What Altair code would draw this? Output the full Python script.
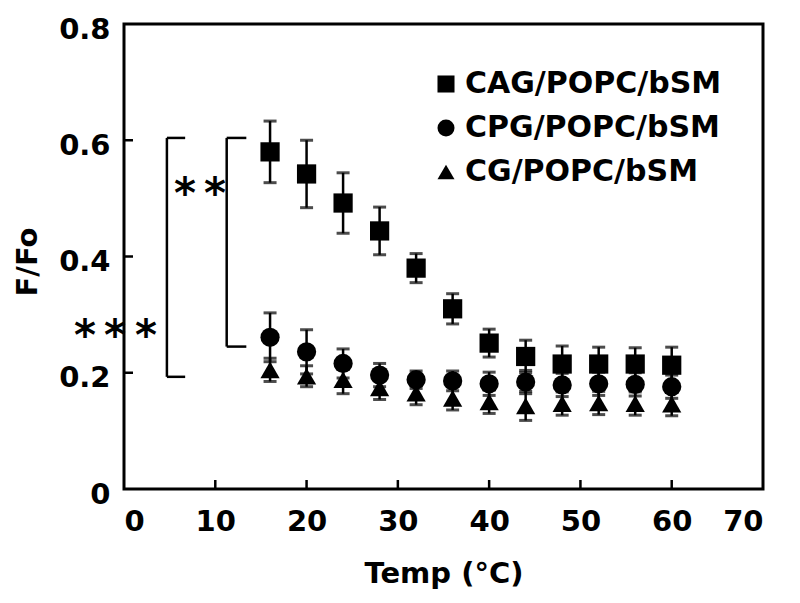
import altair as alt
import pandas as pd

# ---- data ----
temps = [16, 20, 24, 28, 32, 36, 40, 44, 48, 52, 56, 60]
series_names = ["CAG/POPC/bSM", "CPG/POPC/bSM", "CG/POPC/bSM"]
series_shapes = ["square", "circle", "triangle-up"]

cag = [0.580, 0.542, 0.492, 0.444, 0.380, 0.310, 0.251, 0.228, 0.215, 0.215, 0.215, 0.213]
cag_err = [0.053, 0.058, 0.052, 0.041, 0.025, 0.026, 0.024, 0.028, 0.031, 0.029, 0.028, 0.031]
cpg = [0.261, 0.236, 0.216, 0.196, 0.188, 0.186, 0.181, 0.184, 0.179, 0.181, 0.180, 0.176]
cpg_err = [0.042, 0.038, 0.025, 0.020, 0.015, 0.017, 0.020, 0.020, 0.020, 0.020, 0.020, 0.020]
cg = [0.205, 0.194, 0.188, 0.174, 0.165, 0.156, 0.150, 0.143, 0.147, 0.148, 0.147, 0.146]
cg_err = [0.020, 0.018, 0.024, 0.020, 0.020, 0.020, 0.020, 0.025, 0.020, 0.020, 0.020, 0.020]

x_tick_values = [0, 10, 20, 30, 40, 50, 60, 70]
y_tick_values = [0, 0.2, 0.4, 0.6, 0.8]
x_inner_ticks = [10, 20, 30, 40, 50, 60]
y_inner_ticks = [0.2, 0.4, 0.6]

# significance brackets
bracket_x = [4.7, 11.25]
bracket_arm_x = [6.7, 13.4]
bracket_top = [0.604, 0.604]
bracket_bottom = [0.193, 0.245]
star_x = [-4.27, -0.99, 2.41, 6.68, 9.97]
star_y = [0.279, 0.279, 0.279, 0.523, 0.523]

# ---- tables ----
rows = []
for name, vals, errs in zip(series_names, [cag, cpg, cg], [cag_err, cpg_err, cg_err]):
    for t, v, e in zip(temps, vals, errs):
        rows.append({"series": name, "temp": t, "ff": v, "lo": v - e, "hi": v + e})
df = pd.DataFrame(rows)

br = pd.DataFrame({"x": bracket_x, "x2": bracket_arm_x, "top": bracket_top, "bottom": bracket_bottom})
stars = pd.DataFrame({"x": star_x, "y": star_y, "t": ["*"] * len(star_x)})
xt = pd.DataFrame({"v": x_inner_ticks})
yt = pd.DataFrame({"v": y_inner_ticks})

W, H = 639, 465
FONT = "DejaVu Sans"
xs = alt.Scale(domain=[0, 70], nice=False, zero=False)
ys = alt.Scale(domain=[0, 0.8], nice=False, zero=False)

x_axis = alt.Axis(values=x_tick_values, tickSize=0, domain=False, grid=False,
                  labelPadding=18, title="Temp (°C)", titleX=W / 2, titleY=84,
                  titleBaseline="middle", titleAnchor="middle")
y_axis = alt.Axis(values=y_tick_values, tickSize=0, domain=False, grid=False,
                  labelPadding=14, format=".1~f", labelOffset=5, title="F/Fo",
                  titleX=-97, titleY=H / 2 + 5, titleBaseline="middle", titleAngle=-90,
                  titleAnchor="middle")


def X(field):
    return alt.X(field, scale=xs, axis=x_axis, title="Temp (°C)")


def Y(field):
    return alt.Y(field, scale=ys, axis=y_axis, title="F/Fo")


base = alt.Chart(df)

points = base.mark_point(filled=True, opacity=1, color="black", size=370).encode(
    x=X("temp:Q"),
    y=Y("ff:Q"),
    shape=alt.Shape("series:N", scale=alt.Scale(domain=series_names, range=series_shapes),
                    legend=alt.Legend(title=None, orient="none", legendX=307, legendY=45,
                                      labelFontSize=30, labelFontWeight="bold",
                                      symbolSize=290, symbolFillColor="black",
                                      symbolStrokeWidth=0,
                                      rowPadding=14, labelOffset=4, labelLimit=400)),
)

err_rule = base.mark_rule(color="black", strokeWidth=2.5).encode(
    x=X("temp:Q"), y=Y("lo:Q"), y2="hi:Q")
cap_hi = base.mark_tick(color="black", orient="horizontal", size=13, thickness=3).encode(
    x=X("temp:Q"), y=Y("hi:Q"))
cap_lo = base.mark_tick(color="black", orient="horizontal", size=13, thickness=3).encode(
    x=X("temp:Q"), y=Y("lo:Q"))

br_base = alt.Chart(br)
br_vert = br_base.mark_rule(color="black", strokeWidth=2.5).encode(
    x=X("x:Q"), y=Y("bottom:Q"), y2="top:Q")
br_top = br_base.mark_rule(color="black", strokeWidth=2.5).encode(
    x=X("x:Q"), x2="x2:Q", y=Y("top:Q"))
br_bot = br_base.mark_rule(color="black", strokeWidth=2.5).encode(
    x=X("x:Q"), x2="x2:Q", y=Y("bottom:Q"))

star_text = alt.Chart(stars).mark_text(font=FONT, fontSize=42, fontWeight="bold", color="black",
                                       align="center", baseline="alphabetic", dy=23).encode(
    x=X("x:Q"), y=Y("y:Q"), text="t:N")

x_ticks = alt.Chart(xt).mark_rule(color="black", strokeWidth=2.5).encode(
    x=X("v:Q"), y=alt.value(H), y2=alt.value(H - 9))
y_ticks = alt.Chart(yt).mark_rule(color="black", strokeWidth=2.5).encode(
    y=Y("v:Q"), x=alt.value(0), x2=alt.value(9))

chart = alt.layer(
    points, x_ticks, y_ticks, br_vert, br_top, br_bot, star_text,
    err_rule, cap_hi, cap_lo,
).properties(
    width=W, height=H,
    autosize=alt.AutoSizeParams(type="none"),
    padding={"left": 116, "top": 16, "right": 25, "bottom": 102},
).configure_view(
    stroke="black", strokeWidth=3,
).configure_axis(
    labelFont=FONT, labelFontSize=29, labelFontWeight="bold", labelColor="black",
    titleFont=FONT, titleFontSize=29, titleFontWeight="bold", titleColor="black",
).configure_legend(
    labelFont=FONT, labelColor="black",
)

chart.save("out.html", embed_options={"renderer": "svg", "actions": False})
